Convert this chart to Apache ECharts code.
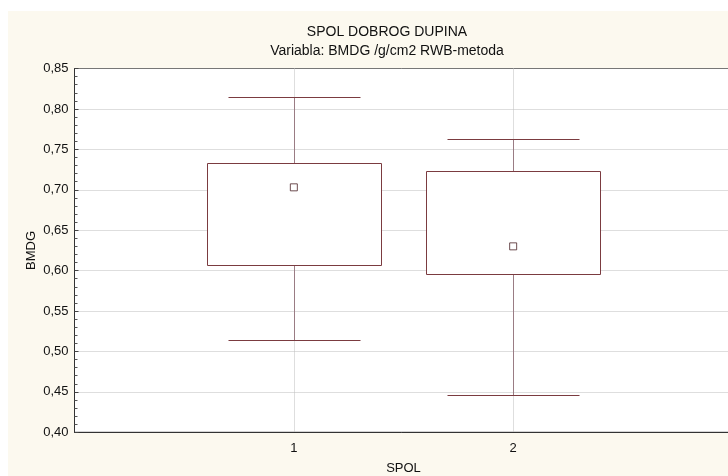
<!DOCTYPE html>
<html>
<head>
<meta charset="utf-8">
<script src="https://cdn.jsdelivr.net/npm/echarts@6/dist/echarts.min.js"></script>
<style>html,body{margin:0;padding:0;background:#fff;}#c{width:728px;height:476px;}</style>
</head>
<body>
<div id="c"></div>
<script>
var categories = [1, 2];
var whiskerLow = [0.514, 0.446];
var boxLow = [0.607, 0.596];
var boxHigh = [0.733, 0.723];
var whiskerHigh = [0.815, 0.763];
var centerPoint = [0.703, 0.630];
var yTicks = [0.40, 0.45, 0.50, 0.55, 0.60, 0.65, 0.70, 0.75, 0.80, 0.85];

var boxData = categories.map(function (c, i) {
  return [c, whiskerLow[i], boxLow[i], boxHigh[i], whiskerHigh[i]];
});
var pointData = categories.map(function (c, i) { return [c, centerPoint[i]]; });

var LINE = '#7b3b40';
var FONT = 'Liberation Sans, Arial, sans-serif';
var chart = echarts.init(document.getElementById('c'), null, {renderer: 'canvas'});
chart.setOption({
  animation: false,
  backgroundColor: '#ffffff',
  graphic: [{
    type: 'rect', z: -10, silent: true,
    shape: {x: 8, y: 11, width: 720, height: 465},
    style: {fill: '#fcf9ef'}
  }],
  title: [{
    text: 'SPOL DOBROG DUPINA',
    left: 382, top: 20, textAlign: 'center',
    textStyle: {fontFamily: FONT, fontSize: 14, fontWeight: 'normal', color: '#111'}
  }, {
    text: 'Variabla: BMDG /g/cm2 RWB-metoda',
    left: 382, top: 39, textAlign: 'center',
    textStyle: {fontFamily: FONT, fontSize: 14, fontWeight: 'normal', color: '#111'}
  }],
  grid: {
    left: 74.5, top: 68.5, width: 658, height: 363.8,
    outerBoundsMode: 'none', containLabel: false,
    show: true, backgroundColor: '#ffffff', borderColor: '#333', borderWidth: 1
  },
  xAxis: {
    type: 'value', min: 0, max: 3, interval: 1,
    name: 'SPOL', nameLocation: 'middle', nameGap: 30, nameMoveOverlap: false,
    nameTextStyle: {fontFamily: FONT, fontSize: 13, color: '#111'},
    axisLine: {show: true, lineStyle: {color: '#333', width: 1}},
    axisTick: {show: false},
    axisLabel: {
      fontFamily: FONT, fontSize: 13, color: '#111', margin: 10,
      formatter: function (v) { return categories.indexOf(v) >= 0 ? String(v) : ''; }
    },
    splitLine: {show: true, lineStyle: {color: '#bdbdbd', type: 'dotted', width: 1}}
  },
  yAxis: {
    type: 'value', min: 0.40, max: 0.85, interval: 0.05,
    name: 'BMDG', nameLocation: 'middle', nameGap: 37, nameMoveOverlap: false,
    nameTextStyle: {fontFamily: FONT, fontSize: 13, color: '#111'},
    axisLine: {show: true, lineStyle: {color: '#333', width: 1}},
    axisTick: {show: true, inside: true, length: 4, lineStyle: {color: '#444', width: 1}},
    minorTick: {show: true, splitNumber: 5, length: 3, lineStyle: {color: '#555', width: 1}},
    axisLabel: {
      fontFamily: FONT, fontSize: 13, color: '#111', margin: 6,
      formatter: function (v) {
        var t = yTicks.filter(function (k) { return Math.abs(k - v) < 1e-6; });
        return t.length ? t[0].toFixed(2).replace('.', ',') : '';
      }
    },
    splitLine: {show: true, lineStyle: {color: '#bdbdbd', type: 'dotted', width: 1}}
  },
  series: [{
    type: 'custom',
    data: boxData,
    z: 3,
    renderItem: function (params, api) {
      var x = api.value(0);
      var pLow = api.coord([x, api.value(1)]);
      var pQ1 = api.coord([x, api.value(2)]);
      var pQ3 = api.coord([x, api.value(3)]);
      var pHigh = api.coord([x, api.value(4)]);
      var cx = Math.round(pLow[0]) + 0.5;
      var bw = 174, cw = 132;
      function ry(y) { return Math.round(y) + 0.5; }
      return {
        type: 'group',
        children: [
          {type: 'line', shape: {x1: cx, y1: ry(pHigh[1]), x2: cx, y2: ry(pQ3[1])}, style: {stroke: '#9a7c84', lineWidth: 1}},
          {type: 'line', shape: {x1: cx, y1: ry(pQ1[1]), x2: cx, y2: ry(pLow[1])}, style: {stroke: '#9a7c84', lineWidth: 1}},
          {type: 'line', shape: {x1: cx - cw / 2, y1: ry(pHigh[1]), x2: cx + cw / 2, y2: ry(pHigh[1])}, style: {stroke: LINE, lineWidth: 1}},
          {type: 'line', shape: {x1: cx - cw / 2, y1: ry(pLow[1]), x2: cx + cw / 2, y2: ry(pLow[1])}, style: {stroke: LINE, lineWidth: 1}},
          {type: 'rect', shape: {x: cx - bw / 2, y: ry(pQ3[1]), width: bw, height: ry(pQ1[1]) - ry(pQ3[1])},
            style: {fill: '#ffffff', stroke: LINE, lineWidth: 1}}
        ]
      };
    }
  }, {
    type: 'scatter',
    data: pointData,
    z: 5,
    symbol: 'rect',
    symbolSize: 7,
    itemStyle: {color: '#ffffff', borderColor: '#4a2226', borderWidth: 1}
  }]
});
</script>
</body>
</html>
